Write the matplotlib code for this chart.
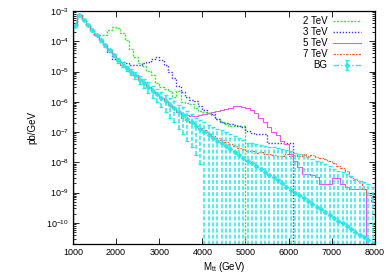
import numpy as np
import matplotlib
matplotlib.use("Agg")
import matplotlib.pyplot as plt
from matplotlib.ticker import LogLocator, NullFormatter, FixedLocator

plt.rcParams['font.family'] = ['Liberation Sans', 'DejaVu Sans']
plt.rcParams['mathtext.fontset'] = 'custom'
plt.rcParams['mathtext.rm'] = 'Liberation Sans'
plt.rcParams['mathtext.it'] = 'Liberation Sans'
plt.rcParams['mathtext.bf'] = 'Liberation Sans'

# 100 GeV bins from 1 to 8 TeV
bin_edges = list(range(1000, 8001, 100))
bin_centers = list(range(1050, 8000, 100))

# values are log10(pb/GeV), one per bin
bg_exp = [-3.50, -3.13, -3.30, -3.47, -3.63, -3.80, -3.97, -4.13, -4.30, -4.47,
          -4.63, -4.77, -4.90, -5.00, -5.13, -5.27, -5.37, -5.50, -5.63, -5.73,
          -5.87, -5.97, -6.10, -6.20, -6.33, -6.43, -6.57, -6.67, -6.80, -6.90,
          -7.00, -7.10, -7.20, -7.30, -7.37, -7.47, -7.57, -7.67, -7.77, -7.87,
          -7.97, -8.03, -8.13, -8.23, -8.33, -8.43, -8.50, -8.60, -8.70, -8.80,
          -8.90, -9.00, -9.07, -9.17, -9.27, -9.37, -9.47, -9.53, -9.63, -9.73,
          -9.83, -9.93, -10.00, -10.10, -10.20, -10.30, -10.40, -10.47, -10.57, -10.67]

# relative error of the background, per bin
bg_relerr = [0.05, 0.05, 0.05, 0.06, 0.07, 0.08, 0.09, 0.10, 0.12, 0.14,
             0.16, 0.18, 0.20, 0.23, 0.26, 0.30, 0.34, 0.38, 0.42, 0.47,
             0.52, 0.57, 0.62, 0.67, 0.72, 0.77, 0.81, 0.85, 0.89, 0.93,
             1.1, 1.2, 1.35, 1.5, 1.7, 1.9, 2.1, 2.4, 2.7, 2.9,
             3.2, 3.8, 4.5, 5.3, 6.3, 7.5, 9.0, 11, 13, 15.5,
             17.5, 19.5, 21.5, 24, 26, 28.5, 31, 33.5, 36, 39,
             41, 44, 47, 50, 53, 57, 61, 65, 69, 73]

tev2_exp = [-3.50, -3.13, -3.30, -3.47, -3.63, -3.80, -3.80, -3.80, -3.63, -3.53,
            -3.57, -3.73, -3.97, -4.27, -4.53, -4.73, -4.83, -4.97, -5.13, -5.37,
            -5.50, -5.57, -5.63, -5.83, -5.63, -6.00, -6.03, -6.07, -6.20, -6.30,
            -6.33, -6.37, -6.43, -6.57, -6.67, -6.73, -6.80, -6.80, -6.80, -6.80]

tev3_exp = [-3.50, -3.13, -3.30, -3.47, -3.63, -3.80, -3.97, -4.13, -4.37, -4.57,
            -4.63, -4.70, -4.73, -4.77, -4.80, -4.80, -4.73, -4.67, -4.57, -4.53,
            -4.63, -4.80, -5.00, -5.20, -5.47, -5.67, -5.83, -5.93, -5.97, -6.13,
            -6.27, -6.37, -6.40, -6.57, -6.67, -6.70, -6.73, -6.77, -6.80, -6.83,
            -6.97, -7.03, -7.07, -7.07, -7.07, -7.37, -7.37, -7.37, -7.37, -7.37,
            -7.37]

tev5_exp = [-3.50, -3.13, -3.30, -3.47, -3.63, -3.80, -3.97, -4.13, -4.30, -4.47,
            -4.63, -4.77, -4.90, -5.00, -5.13, -5.27, -5.37, -5.50, -5.63, -5.73,
            -5.87, -5.97, -6.10, -6.20, -6.33, -6.40, -6.43, -6.47, -6.47, -6.43,
            -6.40, -6.37, -6.33, -6.30, -6.27, -6.23, -6.20, -6.13, -6.13, -6.17,
            -6.20, -6.27, -6.37, -6.53, -6.67, -6.83, -7.00, -7.10, -7.30, -7.40,
            -7.73, -7.97, -8.17, -8.40, -8.40, -8.43, -8.47, -8.73, -8.73, -8.73,
            -8.53, -8.53, -8.73, -8.83, -8.87, -8.87, -8.87, -8.87]

tev7_exp = [-3.50, -3.13, -3.30, -3.47, -3.63, -3.80, -3.97, -4.13, -4.30, -4.47,
            -4.63, -4.77, -4.90, -5.00, -5.13, -5.27, -5.37, -5.50, -5.63, -5.73,
            -5.87, -5.97, -6.10, -6.20, -6.33, -6.53, -6.63, -6.70, -6.80, -6.87,
            -6.93, -7.03, -7.13, -7.20, -7.27, -7.33, -7.40, -7.47, -7.53, -7.57,
            -7.63, -7.63, -7.70, -7.67, -7.73, -7.73, -7.77, -7.80, -7.80, -7.73,
            -7.80, -7.77, -7.80, -7.73, -7.80, -7.77, -7.83, -7.87, -7.90, -7.97,
            -8.03, -8.13, -8.20, -8.30, -8.47, -8.57, -8.63, -8.87, -9.07, -9.30]

y_decades = [1e-10, 1e-9, 1e-8, 1e-7, 1e-6, 1e-5, 1e-4, 1e-3]

FLOOR = 1e-14


def hist_line(ax, exps, **kw):
    """Draw a histogram outline that rises from and drops back to the floor."""
    vals = 10.0 ** np.array(exps)
    edges = np.array(bin_edges[:len(vals) + 1])
    xs = np.repeat(edges, 2)
    ys = np.r_[FLOOR, np.repeat(vals, 2), FLOOR]
    line, = ax.plot(xs, ys, **kw)
    return line


fig = plt.figure(figsize=(3.92, 2.74), dpi=100)
ax = fig.add_axes([0.186, 0.1095, 0.7704, 0.8504])

h2 = hist_line(ax, tev2_exp, color='#3ae63a', lw=1.0, ls=(0, (1.5, 1)), label='2 TeV')
h3 = hist_line(ax, tev3_exp, color='#3a3aee', lw=1.0, ls=(0, (1, 1.2)), label='3 TeV')
h5 = hist_line(ax, tev5_exp, color='#f055f0', lw=0.8, ls='-', label='5 TeV')
h7 = hist_line(ax, tev7_exp, color='#ff5a28', lw=0.9, ls=(0, (2, 1, 1, 1)), label='7 TeV')

bg = 10.0 ** np.array(bg_exp)
err = bg * np.array(bg_relerr)
lower = np.maximum(bg - err, FLOOR)
hb = ax.errorbar(bin_centers, bg, yerr=[bg - lower, err], color='#2ee8e8',
                 lw=1.0, ls=(0, (4, 1.5, 1, 1.5)), marker='D', ms=2,
                 capsize=1.6, elinewidth=1.15, label='BG')
for bars in hb[2]:
    bars.set_linestyle((0, (2.5, 1.3)))

ax.set_yscale('log')
ax.set_xlim(1000, 8000)
ax.set_ylim(2e-11, 1e-3)
ax.set_xticks(range(1000, 8001, 1000))
ax.yaxis.set_major_locator(FixedLocator(y_decades))
ax.yaxis.set_minor_locator(LogLocator(base=10, subs=range(2, 10), numticks=20))
ax.yaxis.set_minor_formatter(NullFormatter())
ax.tick_params(which='both', direction='in', top=True, right=True, width=0.6, labelsize=6.5, pad=3)
ax.tick_params(which='major', length=4)
ax.tick_params(which='minor', length=2)
for sp in ax.spines.values():
    sp.set_linewidth(0.9)

ax.set_xlabel(r'M$_{\mathrm{tt}}$ (GeV)', fontsize=7, labelpad=2)
ax.set_ylabel('pb/GeV', fontsize=7, labelpad=6)

ax.legend(handles=[h2, h3, h5, h7, hb], loc='upper right', bbox_to_anchor=(0.97, 1.0),
          frameon=False, markerfirst=False, fontsize=7, handlelength=2.8,
          handletextpad=0.6, labelspacing=0.1, borderaxespad=0.15)

fig.savefig('out.png', dpi=100)
